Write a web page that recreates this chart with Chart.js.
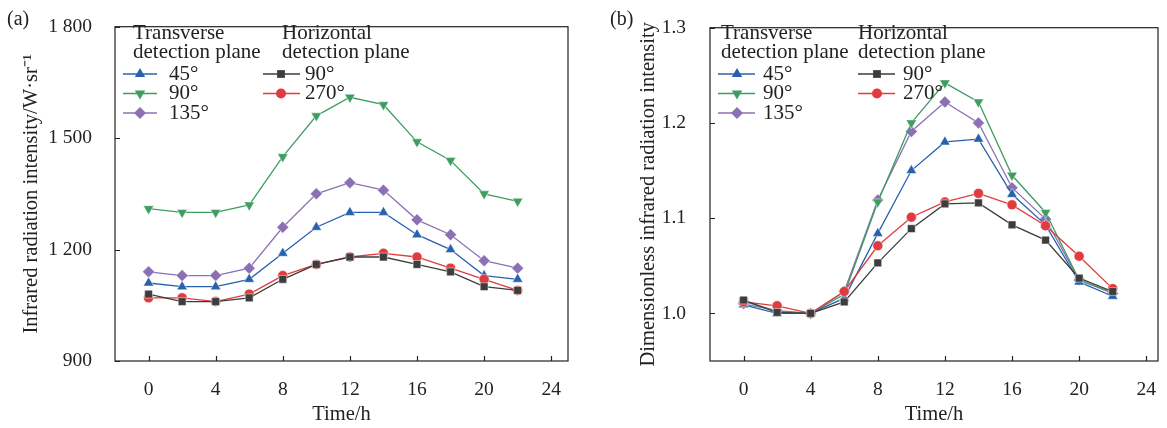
<!DOCTYPE html>
<html lang="en">
<head>
<meta charset="UTF-8">
<title>Infrared radiation intensity vs time</title>
<script src="https://cdn.jsdelivr.net/npm/chart.js@4"></script>
<style>
  body { margin: 0; background: #fff; }
  .wrap { position: relative; width: 1167px; height: 428px; }
  canvas { position: absolute; top: 0; }
  #chartA { left: 0; }
  #chartB { left: 590px; }
</style>
</head>
<body>
<div class="wrap">
  <canvas id="chartA" width="590" height="428"></canvas>
  <canvas id="chartB" width="577" height="428"></canvas>
</div>
<script>
// time of day (h)
const hours = [0, 2, 4, 6, 8, 10, 12, 14, 16, 18, 20, 22];
const xTicks = [0, 4, 8, 12, 16, 20, 24];

// (a) infrared radiation intensity, W·sr⁻¹
const absTrans45  = [1110, 1100, 1100, 1120, 1190, 1260, 1300, 1300, 1240, 1200, 1130, 1120];
const absTrans90  = [1310, 1300, 1300, 1320, 1450, 1560, 1610, 1590, 1490, 1440, 1350, 1330];
const absTrans135 = [1140, 1130, 1130, 1150, 1260, 1350, 1380, 1360, 1280, 1240, 1170, 1150];
const absHoriz90  = [1080, 1060, 1060, 1070, 1120, 1160, 1180, 1180, 1160, 1140, 1100, 1090];
const absHoriz270 = [1070, 1070, 1060, 1080, 1130, 1160, 1180, 1190, 1180, 1150, 1120, 1090];
const absYTicks = [900, 1200, 1500, 1800];

// (b) dimensionless intensity
const relTrans45  = [1.009, 1.000, 1.000, 1.016, 1.084, 1.150, 1.180, 1.183, 1.125, 1.093, 1.033, 1.018];
const relTrans90  = [1.013, 1.002, 1.000, 1.020, 1.117, 1.200, 1.242, 1.222, 1.145, 1.106, 1.035, 1.022];
const relTrans135 = [1.010, 1.003, 1.000, 1.023, 1.119, 1.191, 1.222, 1.200, 1.132, 1.099, 1.035, 1.021];
const relHoriz90  = [1.014, 1.001, 1.000, 1.012, 1.053, 1.089, 1.115, 1.116, 1.093, 1.077, 1.037, 1.023];
const relHoriz270 = [1.012, 1.008, 1.000, 1.023, 1.071, 1.101, 1.117, 1.126, 1.114, 1.092, 1.060, 1.026];
const relYTicks = [1.0, 1.1, 1.2, 1.3];

const seriesLabels = ['45°', '90°', '135°', '90°', '270°'];

const SERIF = '"Liberation Serif", "Times New Roman", serif';
Chart.defaults.font.family = SERIF;
Chart.defaults.color = '#222';

const styles = {
  t45:  { color: '#2862ae', point: 'triangle', radius: 6, rot: 0 },
  t90:  { color: '#3f9d62', point: 'triangle', radius: 6, rot: 180 },
  t135: { color: '#8c70b4', point: 'rectRot', radius: 6, rot: 0 },
  h90:  { color: '#3d3d3d', point: 'rect', radius: 5.5, rot: 0 },
  h270: { color: '#e03b3f', point: 'circle', radius: 5, rot: 0 }
};

function ds(label, values, st) {
  return {
    label: label,
    data: values.map((v, i) => ({ x: hours[i], y: v })),
    borderColor: st.color,
    backgroundColor: st.color,
    borderWidth: 1.3,
    pointStyle: st.point,
    pointRadius: st.radius,
    pointRotation: st.rot,
    pointBorderColor: 'rgba(255,255,255,0.6)',
    pointBorderWidth: 0.8,
    pointBackgroundColor: st.color,
    tension: 0
  };
}

// small marker drawer for the hand-made legend
function drawMarker(ctx, st, x, y) {
  const r = st.radius;
  ctx.fillStyle = st.color;
  ctx.beginPath();
  if (st.point === 'triangle') {
    let a = st.rot * Math.PI / 180;
    ctx.moveTo(x + Math.sin(a) * r, y - Math.cos(a) * r);
    a += 2 * Math.PI / 3;
    ctx.lineTo(x + Math.sin(a) * r, y - Math.cos(a) * r);
    a += 2 * Math.PI / 3;
    ctx.lineTo(x + Math.sin(a) * r, y - Math.cos(a) * r);
  } else if (st.point === 'rectRot') {
    ctx.moveTo(x, y - r); ctx.lineTo(x + r, y); ctx.lineTo(x, y + r); ctx.lineTo(x - r, y);
  } else if (st.point === 'rect') {
    const s = r * Math.SQRT1_2;
    ctx.rect(x - s, y - s, 2 * s, 2 * s);
  } else {
    ctx.arc(x, y, r, 0, Math.PI * 2);
  }
  ctx.closePath();
  ctx.fill();
}

// box around plot area + inward tick marks + panel tag + legend
const decorPlugin = {
  id: 'decor',
  afterDatasetsDraw(chart, args, o) {
    const { ctx, chartArea: a, scales } = chart;
    ctx.save();
    ctx.strokeStyle = '#222';
    ctx.lineWidth = 1.2;
    ctx.strokeRect(a.left, a.top, a.right - a.left, a.bottom - a.top);
    ctx.beginPath();
    scales.x.ticks.forEach(t => {
      const px = Math.round(scales.x.getPixelForValue(t.value)) + 0.5;
      ctx.moveTo(px, a.bottom); ctx.lineTo(px, a.bottom - 5);
    });
    scales.y.ticks.forEach(t => {
      const py = Math.round(scales.y.getPixelForValue(t.value)) + 0.5;
      ctx.moveTo(a.left, py); ctx.lineTo(a.left + 5, py);
    });
    ctx.stroke();

    // panel tag
    ctx.fillStyle = '#222';
    ctx.font = '20px ' + SERIF;
    ctx.textBaseline = 'middle';
    ctx.textAlign = 'left';
    ctx.fillText(o.tag, o.tagX, 20);

    // legend headings
    ctx.font = '21px ' + SERIF;
    o.heads.forEach(h => {
      ctx.fillText(h.lines[0], h.x, 33);
      ctx.fillText(h.lines[1], h.x, 52);
    });
    // legend entries
    o.rows.forEach(r => {
      ctx.strokeStyle = r.st.color;
      ctx.lineWidth = 1.3;
      ctx.beginPath();
      ctx.moveTo(r.col.x0, r.y); ctx.lineTo(r.col.x1, r.y);
      ctx.stroke();
      drawMarker(ctx, r.st, r.col.mark, r.y);
      ctx.fillStyle = '#222';
      ctx.fillText(r.text, r.col.text, r.y);
    });
    ctx.restore();
  }
};

function makeChart(id, series, yMin, yMax, yTicks, yFmt, yTitle, geo) {
  return new Chart(document.getElementById(id), {
    type: 'line',
    data: { datasets: series },
    options: {
      responsive: false,
      animation: false,
      layout: { padding: { top: 20, right: geo.padRight, bottom: 0, left: 0 } },
      plugins: {
        legend: { display: false },
        tooltip: { enabled: false },
        decor: geo.decor
      },
      scales: {
        x: {
          type: 'linear',
          min: -2,
          max: geo.xMax,
          afterBuildTicks: s => { s.ticks = xTicks.map(v => ({ value: v })); },
          afterFit: s => { s.height = 67; },
          grid: { display: false },
          border: { display: false },
          ticks: { font: { size: 19.5 }, color: '#222', padding: 9, maxRotation: 0 },
          title: { display: true, text: 'Time/h', color: '#222',
                   font: { size: 20.5, lineHeight: 1 }, padding: { top: 0, bottom: 3.5 } }
        },
        y: {
          type: 'linear',
          min: yMin,
          max: yMax,
          afterBuildTicks: s => { s.ticks = yTicks.map(v => ({ value: v })); },
          afterFit: s => { s.width = geo.yWidth; },
          grid: { display: false },
          border: { display: false },
          ticks: { font: { size: 19.5 }, color: '#222', padding: geo.yPad, callback: yFmt },
          title: { display: true, text: yTitle, color: '#222',
                   font: { size: 20.5, lineHeight: 1 }, padding: { top: geo.titlePad, bottom: 0 } }
        }
      }
    },
    plugins: [decorPlugin]
  });
}

function legendRows(colA, colB) {
  return [
    { col: colA, y: 74,   st: styles.t45,  text: seriesLabels[0] },
    { col: colA, y: 93.5, st: styles.t90,  text: seriesLabels[1] },
    { col: colA, y: 113,  st: styles.t135, text: seriesLabels[2] },
    { col: colB, y: 74,   st: styles.h90,  text: seriesLabels[3] },
    { col: colB, y: 93.5, st: styles.h270, text: seriesLabels[4] }
  ];
}

const headA = ['Transverse', 'detection plane'];
const headB = ['Horizontal', 'detection plane'];

makeChart('chartA', [
  ds('Horizontal 90°', absHoriz90, styles.h90),
  ds('Horizontal 270°', absHoriz270, styles.h270),
  ds('Transverse 45°', absTrans45, styles.t45),
  ds('Transverse 90°', absTrans90, styles.t90),
  ds('Transverse 135°', absTrans135, styles.t135)
], 900, 1800, absYTicks,
  v => String(v).replace(/\B(?=(\d{3})+$)/, ' '),
  'Infrared radiation intensity/W·sr⁻¹',
  { padRight: 22, xMax: 25, yWidth: 115, yPad: 15, titlePad: 21,
    decor: {
      tag: '(a)', tagX: 7,
      heads: [{ x: 133, lines: headA }, { x: 282, lines: headB }],
      rows: legendRows({ x0: 123, x1: 157, mark: 140, text: 169 },
                       { x0: 263, x1: 300, mark: 281, text: 305 })
    } });

makeChart('chartB', [
  ds('Horizontal 90°', relHoriz90, styles.h90),
  ds('Horizontal 270°', relHoriz270, styles.h270),
  ds('Transverse 45°', relTrans45, styles.t45),
  ds('Transverse 90°', relTrans90, styles.t90),
  ds('Transverse 135°', relTrans135, styles.t135)
], 0.95, 1.3, relYTicks,
  v => v.toFixed(1),
  'Dimensionless infrared radiation intensity',
  { padRight: 9, xMax: 24.7, yWidth: 120, yPad: 16, titlePad: 48,
    decor: {
      tag: '(b)', tagX: 20,
      heads: [{ x: 131, lines: headA }, { x: 268, lines: headB }],
      rows: legendRows({ x0: 128, x1: 165, mark: 147, text: 173 },
                       { x0: 268, x1: 305, mark: 287, text: 313 })
    } });
</script>
</body>
</html>
